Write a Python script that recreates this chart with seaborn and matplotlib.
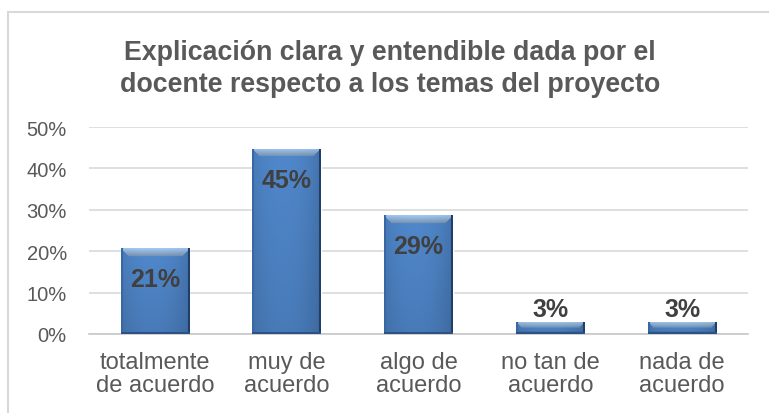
import matplotlib
matplotlib.use("Agg")
import matplotlib.pyplot as plt
import matplotlib.colors as mcolors
import numpy as np
import pandas as pd
import seaborn as sns

categories = ["totalmente\nde acuerdo", "muy de\nacuerdo", "algo de\nacuerdo",
              "no tan de\nacuerdo", "nada de\nacuerdo"]
shares = [0.207, 0.448, 0.287, 0.029, 0.029]
title = "Explicación clara y entendible dada por el\ndocente respecto a los temas del proyecto"

sns.set_theme(style="white")
plt.rcParams["font.family"] = ["Liberation Sans", "DejaVu Sans"]

grey = "#595959"
df = pd.DataFrame({"cat": categories, "share": shares})

fig = plt.figure(figsize=(7.69, 4.14), dpi=100)
ax = fig.add_axes([89 / 769, 79 / 414, 659 / 769, 207 / 414])
sns.barplot(data=df, x="cat", y="share", color="#4a7ebb", width=0.52,
            saturation=1, ax=ax, zorder=2)

# bevelled look: horizontal shading + light strip on top, clipped to each bar
px_per_unit = 207 / 0.5
for p in ax.patches:
    x0, w, h = p.get_x(), p.get_width(), p.get_height()
    rows = max(int(h * px_per_unit), 4)
    cols = 68
    xs = np.linspace(0, 1, cols)
    prof = 1.0 - 0.55 * np.abs(xs - 0.45) ** 2.2
    base = np.array(mcolors.to_rgb("#5088cc"))
    img = np.ones((rows, cols, 3)) * base
    # darker towards the bottom
    vert = np.linspace(1.0, 0.9, rows)
    img *= prof[None, :, None] * vert[:, None, None]
    bev = min(8, rows // 2)
    light = np.array(mcolors.to_rgb("#a2c8f2"))
    for r in range(bev):
        t = r / max(bev - 1, 1)
        row = light * (1 - 0.25 * t)
        # diagonal bevel corners
        lo, hi = r, cols - 1 - r
        img[r, lo:hi + 1] = row * prof[lo:hi + 1, None] ** 0.4
    img[:, :2] = mcolors.to_rgb("#3868a3")
    img[:, -2:] = mcolors.to_rgb("#1f3f6a")
    img[-2:, :] = mcolors.to_rgb("#2c5285")
    img = np.clip(img, 0, 1)
    im = ax.imshow(img, extent=[x0, x0 + w, 0, h], aspect="auto", zorder=3,
                   interpolation="bilinear")
    im.set_clip_path(p)
    label = f"{round(h * 100):.0f}%"
    if h > 0.1:
        ax.text(x0 + w / 2, h - 0.075, label, ha="center", va="center",
                fontsize=18, fontweight="bold", color="#404040", zorder=4)
    else:
        ax.text(x0 + w / 2, h + 0.032, label, ha="center", va="center",
                fontsize=18, fontweight="bold", color="#404040", zorder=4)

ax.set_xlim(-0.5, 4.5)
ax.set_ylim(0, 0.5)
ax.set_yticks(np.arange(0, 0.51, 0.1))
ax.set_yticklabels([f"{int(round(v * 100))}%" for v in np.arange(0, 0.51, 0.1)])
ax.yaxis.grid(True, color="#d9d9d9", linewidth=1.2, zorder=0)
ax.set_axisbelow(True)
for s in ["top", "right", "left"]:
    ax.spines[s].set_visible(False)
ax.spines["bottom"].set_color("#c8c8c8")
ax.spines["bottom"].set_linewidth(1.2)
ax.tick_params(axis="y", length=0, labelsize=14.5, colors=grey, pad=16)
ax.tick_params(axis="x", length=0, labelsize=17, colors=grey, pad=12)
for lbl in ax.get_xticklabels():
    lbl.set_linespacing(1.06)
ax.set_xlabel("")
ax.set_ylabel("")

fig.text(390 / 769, 1 - 69 / 414, title, ha="center", va="center",
         fontsize=19.3, fontweight="bold", color=grey, linespacing=1.35)

# chart frame
fig.add_artist(plt.Rectangle((8 / 769, -0.02), 1.0, 1 - 13 / 414 + 0.02,
                             transform=fig.transFigure, fill=False,
                             edgecolor="#d9d9d9", linewidth=1.5))

fig.savefig("out.png", dpi=100)
